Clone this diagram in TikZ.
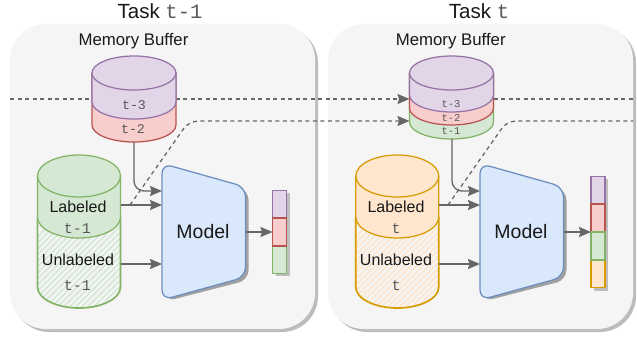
\documentclass[tikz,border=0pt]{standalone}
\usepackage{fontspec}
\setmainfont{Liberation Sans}
\setmonofont{Liberation Mono}
\usetikzlibrary{arrows.meta}
\definecolor{pf}{HTML}{E1D5E7}\definecolor{pd}{HTML}{9673A6}
\definecolor{rf}{HTML}{F8CECC}\definecolor{rd}{HTML}{B85450}
\definecolor{gf}{HTML}{D5E8D4}\definecolor{gd}{HTML}{82B366}
\definecolor{of}{HTML}{FFE6CC}\definecolor{od}{HTML}{D79B00}
\definecolor{bf}{HTML}{DAE8FC}\definecolor{bd}{HTML}{6C8EBF}
\definecolor{panelc}{HTML}{F5F5F5}\definecolor{shadowc}{HTML}{BDBDBD}
\definecolor{linec}{HTML}{666666}
\newcommand{\fs}[2]{\fontsize{#1}{#2}\selectfont}
% \cylbody{xc}{rx}{topcy}{botcy}{ry}{fill}{draw}
\newcommand{\cylbody}[7]{%
  \path[fill=#6] (#1-#2,#3) -- (#1-#2,#4) arc[start angle=180,end angle=0,x radius=#2,y radius=#5] -- (#1+#2,#3) -- cycle;
  \fill[#6] (#1,#3) ellipse[x radius=#2,y radius=#5];
  \draw[#7,cylline] (#1-#2,#3) -- (#1-#2,#4) arc[start angle=180,end angle=0,x radius=#2,y radius=#5] -- (#1+#2,#3);
}
\newcommand{\cyltop}[5]{%
  \draw[#5,cylline,fill=#4] (#1,#2) ellipse[x radius=#3,y radius=17];
}
% hatched unlabeled cylinder
\newcommand{\hatchcyl}[6]{%
  \begin{scope}
    \clip (#1-#2,#3) -- (#1-#2,#4) arc[start angle=180,end angle=0,x radius=#2,y radius=21] -- (#1+#2,#3) -- cycle;
    \foreach \k in {0,...,40}{
      \draw[#5,line width=1.5pt] (#1-#2-10+\k*6-70,#4+30) -- ++(110,-110);
    }
  \end{scope}
  \draw[#6,cylline,line width=1.7pt] (#1-#2,#3) -- (#1-#2,#4) arc[start angle=180,end angle=0,x radius=#2,y radius=21] -- (#1+#2,#3);
}
\tikzset{
  cylline/.style={line width=1.25pt},
  panel/.style={fill=panelc,rounded corners=36pt},
  panelshadow/.style={fill=shadowc,rounded corners=36pt},
  conn/.style={line width=1.3pt,draw=linec,-{Stealth[length=12pt,width=10pt,inset=1.5pt,fill=linec]}},
  dashline/.style={line width=1.25pt,draw=linec,dash pattern=on 4pt off 3.5pt},
  dashhead/.style={dashline,-{Stealth[length=12pt,width=10pt,inset=1.5pt,fill=linec,sep=0pt]}},
  model/.style={draw=bd,fill=bf,line width=1.25pt,rounded corners=10pt},
  modelshadow/.style={fill=shadowc!85!black,rounded corners=10pt},
  cell/.style={line width=1.25pt},
  txt/.style={inner sep=0pt,text=black!90},
  mono/.style={inner sep=0pt,text=black!65,font=\ttfamily},
}
\begin{document}
\begin{tikzpicture}[x=1pt,y=-1pt]
\useasboundingbox (0,0) rectangle (637,339);
\fill[white] (0,0) rectangle (637,339);
% panels
\fill[panelshadow] (13,27) rectangle (318,332);
\fill[panel] (10,24) rectangle (315,329);
\fill[panelshadow] (331,27) rectangle (636,332);
\fill[panel] (328,24) rectangle (633,329);
% titles
\node[txt] (t1) at (160,11) {\fs{20.5}{24}Task {\color{black!65}\ttfamily t-1}};
\node[txt] (t2) at (479,11) {\fs{20.5}{24}Task {\color{black!65}\ttfamily t}};
\node[txt] (mb1) at (133.5,41) {\fs{16.8}{20}Memory Buffer};
\node[txt] (mb2) at (450.7,41) {\fs{16.8}{20}Memory Buffer};
% named anchors
\coordinate (memAl) at (92,99);
\coordinate (memAr) at (175.7,99);
\coordinate (panelAl) at (10,99);
\coordinate (memBl) at (409.5,99);
\coordinate (memBr) at (493.5,99);
\coordinate (panelBr) at (633,99);
\coordinate (memBll) at (409.5,121);
\coordinate (dashA0) at (130,205);
\coordinate (dashA1) at (189,121);
\coordinate (dashB0) at (448,205);
\coordinate (dashB1) at (507,121);
\coordinate (dashBe) at (633,121);
% dashed connectors
\draw[dashline] (panelAl) -- (memAl);
\draw[dashhead] (memAr) -- (memBl);
\draw[dashline] (memBr) -- (panelBr);
\draw[dashhead,rounded corners=9pt] (dashA0) -- (dashA1) -- (memBll);
\draw[dashline,rounded corners=9pt] (dashB0) -- (dashB1) -- (dashBe);
% memory A
\cylbody{134}{42}{73}{125}{17}{rf}{rd}
\cylbody{134}{42}{73}{102}{17}{pf}{pd}
\cyltop{134}{73}{42}{pf}{pd}
\node[mono,font=\ttfamily\fs{13.3}{15}] (a3) at (134,105) {t-3};
\node[mono,font=\ttfamily\fs{13.3}{15}] (a2) at (133,129) {t-2};
\coordinate (memAb) at (134,142);
% memory B
\cylbody{451.5}{42}{73}{122}{17}{gf}{gd}
\cylbody{451.5}{42}{73}{108}{17}{rf}{rd}
\cylbody{451.5}{42}{73}{95}{17}{pf}{pd}
\cyltop{451.5}{73}{42}{pf}{pd}
\node[mono,font=\ttfamily\fs{10.5}{12}] (b3) at (451,104) {t-3};
\node[mono,font=\ttfamily\fs{10.5}{12}] (b2) at (451,118) {t-2};
\node[mono,font=\ttfamily\fs{10.5}{12}] (b1) at (451,131) {t-1};
\coordinate (memBb) at (452,139);
% data cylinders
\hatchcyl{79}{41.5}{217}{287}{gf}{gd}
\cylbody{79}{41.5}{176}{217}{21}{gf}{gd}
\draw[gd,cylline] (79,176) ellipse[x radius=41.5,y radius=21];
\hatchcyl{397.3}{41.5}{217}{287}{of}{od}
\cylbody{397.3}{41.5}{176}{217}{21}{of}{od}
\draw[od,cylline] (397.3,176) ellipse[x radius=41.5,y radius=21];
\node[txt] (la) at (78,207) {\fs{16}{18}Labeled};
\node[mono,font=\ttfamily\fs{15}{17}] (lat) at (77.5,229) {t-1};
\node[txt] (ua) at (78,259.5) {\fs{16}{18}Unlabeled};
\node[mono,font=\ttfamily\fs{15}{17}] (uat) at (77.5,286) {t-1};
\node[txt] (lb) at (396,207) {\fs{16}{18}Labeled};
\node[mono,font=\ttfamily\fs{15}{17}] (lbt) at (396,229) {t};
\node[txt] (ub) at (396,259.5) {\fs{16}{18}Unlabeled};
\node[mono,font=\ttfamily\fs{15}{17}] (ubt) at (396,286) {t};
% model shadows and models
\fill[modelshadow] (165,168) -- (165,301.5) -- (248.6,280) -- (248.6,190) -- cycle;
\draw[model] (162,163.5) -- (162,300) -- (245.6,277) -- (245.6,187) -- cycle;
\fill[modelshadow] (483,168) -- (483,301.5) -- (566.5,280) -- (566.5,190) -- cycle;
\draw[model] (480,163.5) -- (480,300) -- (563.5,277) -- (563.5,187) -- cycle;
\node[txt] (ma) at (203,232) {\fs{19.5}{22}Model};
\node[txt] (mbm) at (521,232) {\fs{19.5}{22}Model};
% bars
\fill[shadowc] (275.5,193) rectangle (290,276);
\draw[cell,pd,fill=pf] (272.5,190.5) rectangle (286.7,218) coordinate[pos=.5] (c1);
\draw[cell,gd,fill=gf] (272.5,246) rectangle (286.7,273.5) coordinate[pos=.5] (c3);
\draw[cell,rd,fill=rf] (272.5,218) rectangle (286.7,246) coordinate[pos=.5] (c2);
\fill[shadowc] (593.7,179) rectangle (608,291);
\draw[cell,pd,fill=pf] (591,176.5) rectangle (605,204) coordinate[pos=.5] (d1);
\draw[cell,rd,fill=rf] (591,204) rectangle (605,232) coordinate[pos=.5] (d2);
\draw[cell,od,fill=of] (591,260) rectangle (605,287.5) coordinate[pos=.5] (d4);
\draw[cell,gd,fill=gf] (591,232) rectangle (605,260) coordinate[pos=.5] (d3);
% solid connectors
\coordinate (mAin1) at (162,191);\coordinate (mAin2) at (162,205);\coordinate (mAin3) at (162,264);
\coordinate (lAo) at (120.5,205);\coordinate (uAo) at (120.5,264);
\coordinate (mAo) at (245.6,232);\coordinate (barA) at (272.5,232);
\coordinate (mBin1) at (480,191);\coordinate (mBin2) at (480,205);\coordinate (mBin3) at (480,264);
\coordinate (lBo) at (438.8,205);\coordinate (uBo) at (438.8,264);
\coordinate (mBo) at (563.5,232);\coordinate (barB) at (591,232);
\draw[conn,rounded corners=10pt] (memAb) |- (mAin1);
\draw[conn] (lAo) -- (mAin2);
\draw[conn] (uAo) -- (mAin3);
\draw[conn] (mAo) -- (barA);
\draw[conn,rounded corners=10pt] (memBb) |- (mBin1);
\draw[conn] (lBo) -- (mBin2);
\draw[conn] (uBo) -- (mBin3);
\draw[conn] (mBo) -- (barB);
\end{tikzpicture}
\end{document}
